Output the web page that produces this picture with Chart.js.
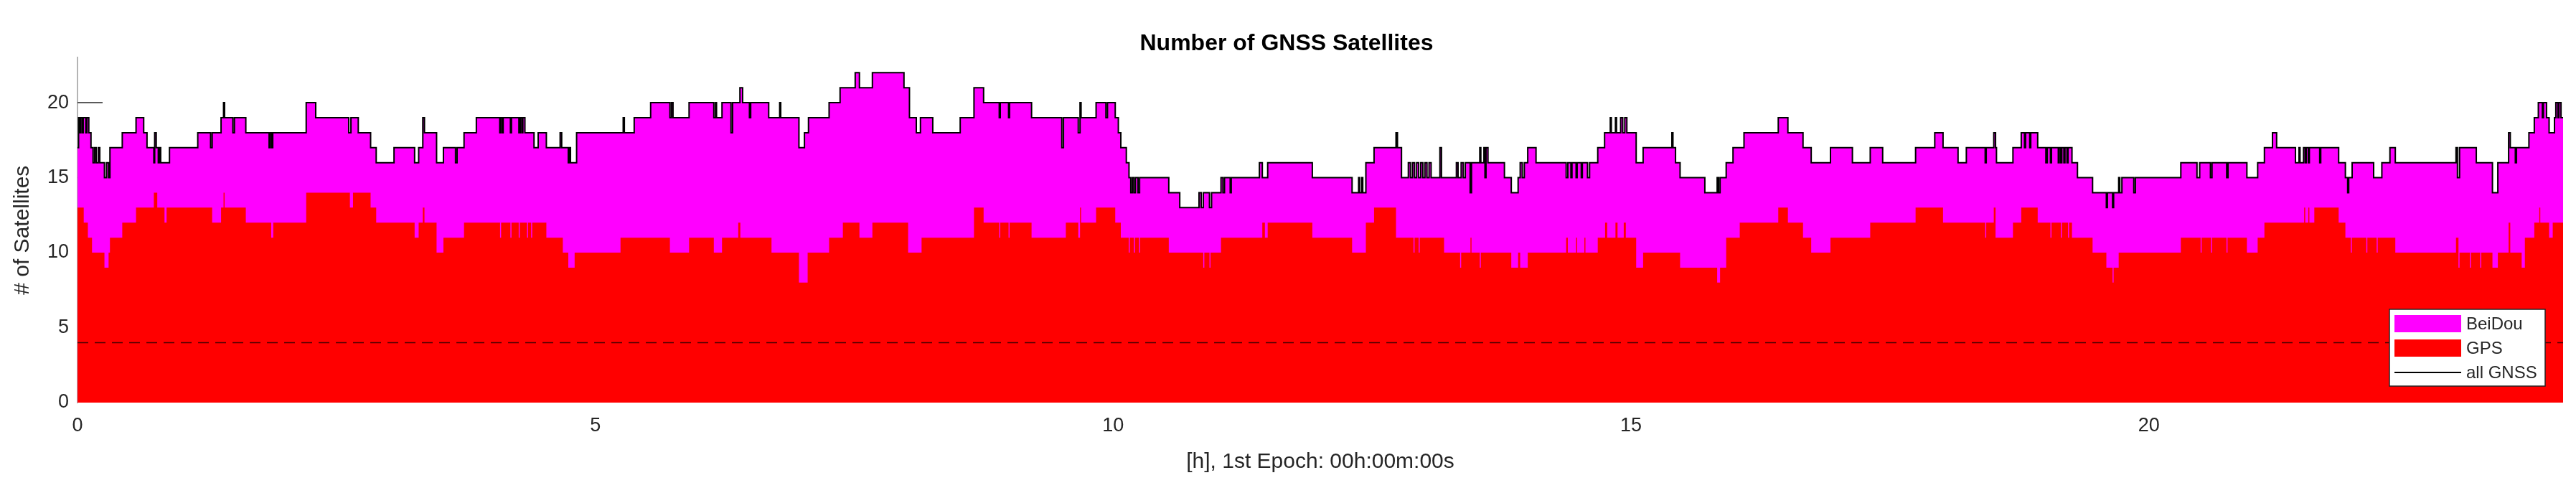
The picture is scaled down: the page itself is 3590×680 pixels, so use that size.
<!DOCTYPE html>
<html>
<head>
<meta charset="utf-8">
<script src="https://cdn.jsdelivr.net/npm/chart.js@4/dist/chart.umd.min.js"></script>
<style>
  html, body { margin: 0; padding: 0; background: #fff; }
  #satChart { display: block; }
</style>
</head>
<body>
<canvas id="satChart" width="3590" height="680"></canvas>
<script>
// [hour, number of satellites] -- value holds until the next entry
const allGnss = [
  [0,17],[0.01,19],[0.02,18],[0.03,19],[0.045,18],[0.055,19],[0.08,18],[0.09,19],[0.109,18],[0.13,17],
  [0.15,16],[0.165,17],[0.18,16],[0.2,17],[0.215,16],[0.26,15],[0.28,16],[0.3,15],[0.313,17],[0.432,18],
  [0.565,19],[0.639,18],[0.671,17],[0.737,16],[0.745,18],[0.76,17],[0.78,16],[0.79,17],[0.803,16],[0.888,17],
  [1.161,18],[1.285,17],[1.3,18],[1.386,19],[1.41,20],[1.42,19],[1.5,18],[1.515,19],[1.625,18],[1.85,17],
  [1.86,18],[1.875,17],[1.885,18],[2.208,20],[2.3,19],[2.619,18],[2.64,19],[2.711,18],[2.83,17],[2.884,16],
  [3.056,17],[3.255,16],[3.294,17],[3.334,19],[3.35,18],[3.467,16],[3.533,17],[3.65,16],[3.665,17],[3.732,18],
  [3.851,19],[4.077,18],[4.085,19],[4.1,18],[4.11,19],[4.18,18],[4.19,19],[4.262,18],[4.275,19],[4.29,18],
  [4.3,19],[4.32,18],[4.408,17],[4.448,18],[4.527,17],[4.66,18],[4.675,17],[4.739,16],[4.75,17],[4.76,16],
  [4.819,18],[5.269,19],[5.28,18],[5.375,19],[5.534,20],[5.72,19],[5.735,20],[5.75,19],[5.905,20],[6.144,19],
  [6.16,20],[6.17,19],[6.223,20],[6.31,18],[6.325,20],[6.396,21],[6.422,20],[6.488,19],[6.5,20],[6.674,19],
  [6.78,20],[6.79,19],[6.966,17],[7.019,18],[7.058,19],[7.257,20],[7.363,21],[7.509,22],[7.55,21],[7.675,22],
  [7.98,21],[8.033,19],[8.099,18],[8.139,19],[8.258,18],[8.523,19],[8.656,21],[8.749,20],[8.9,19],[8.91,20],
  [8.99,19],[9.0,20],[9.212,19],[9.504,17],[9.52,19],[9.663,18],[9.68,20],[9.69,19],[9.835,20],[9.93,19],
  [9.945,20],[10.02,19],[10.05,18],[10.074,17],[10.127,16],[10.153,15],[10.17,14],[10.185,15],[10.2,14],[10.215,15],
  [10.24,14],[10.255,15],[10.537,14],[10.643,13],[10.829,14],[10.85,13],[10.87,14],[10.93,13],[10.95,14],[11.041,15],
  [11.06,14],[11.075,15],[11.13,14],[11.14,15],[11.412,16],[11.44,15],[11.492,16],[11.923,15],[12.307,14],[12.37,15],
  [12.38,14],[12.4,15],[12.41,14],[12.44,16],[12.519,17],[12.731,18],[12.745,17],[12.784,15],[12.85,16],[12.87,15],
  [12.89,16],[12.91,15],[12.93,16],[12.95,15],[12.97,16],[12.99,15],[13.01,16],[13.03,15],[13.05,16],[13.07,15],
  [13.155,17],[13.17,15],[13.314,16],[13.33,15],[13.36,16],[13.38,15],[13.4,16],[13.447,14],[13.46,16],[13.54,17],
  [13.55,16],[13.58,17],[13.59,15],[13.6,17],[13.619,16],[13.778,15],[13.844,14],[13.91,15],[13.93,16],[13.95,15],
  [13.97,16],[14.003,17],[14.083,16],[14.374,15],[14.39,16],[14.42,15],[14.43,16],[14.47,15],[14.48,16],[14.52,15],
  [14.53,16],[14.58,15],[14.6,16],[14.679,17],[14.745,18],[14.8,19],[14.81,18],[14.85,19],[14.86,18],[14.9,19],
  [14.92,18],[14.94,19],[14.96,18],[15.05,16],[15.117,17],[15.395,18],[15.405,17],[15.43,16],[15.474,15],[15.713,14],
  [15.832,15],[15.845,14],[15.86,15],[15.919,16],[15.985,17],[16.091,18],[16.422,19],[16.515,18],[16.661,17],[16.74,16],
  [16.926,17],[17.138,16],[17.31,17],[17.43,16],[17.748,17],[17.933,18],[18.013,17],[18.158,16],[18.238,17],[18.42,16],
  [18.43,17],[18.503,18],[18.52,17],[18.529,16],[18.688,17],[18.768,18],[18.8,17],[18.81,18],[18.85,17],[18.86,18],
  [18.927,17],[19.006,16],[19.02,17],[19.05,16],[19.06,17],[19.126,16],[19.135,17],[19.15,16],[19.16,17],[19.18,16],
  [19.19,17],[19.21,16],[19.22,17],[19.258,16],[19.311,15],[19.457,14],[19.59,13],[19.6,14],[19.65,13],[19.66,14],
  [19.709,15],[19.72,14],[19.74,15],[19.855,14],[19.87,15],[20.309,16],[20.465,15],[20.491,16],[20.595,15],[20.61,16],
  [20.752,15],[20.765,16],[20.947,15],[21.051,16],[21.116,17],[21.194,18],[21.234,17],[21.416,16],[21.45,17],[21.46,16],
  [21.494,17],[21.51,16],[21.52,17],[21.54,16],[21.55,17],[21.65,16],[21.66,17],[21.833,16],[21.898,15],[21.92,14],
  [21.93,15],[21.963,16],[22.171,15],[22.25,16],[22.328,17],[22.38,16],[22.966,17],[22.98,15],[23.0,17],[23.162,16],
  [23.318,14],[23.37,16],[23.474,18],[23.49,17],[23.539,16],[23.55,17],[23.67,18],[23.722,19],[23.761,20],[23.8,19],
  [23.81,20],[23.84,19],[23.865,18],[23.917,19],[23.93,20],[23.95,19],[23.96,20],[23.98,19],[24,19]
];

const gps = [
  [0,13],[0.06,12],[0.1,11],[0.14,10],[0.26,9],[0.3,10],[0.313,11],[0.432,12],[0.565,13],[0.737,14],
  [0.77,13],[0.84,12],[0.86,13],[1.3,12],[1.386,13],[1.41,14],[1.42,13],[1.625,12],[1.87,11],[1.89,12],
  [2.208,14],[2.63,13],[2.66,14],[2.83,13],[2.884,12],[3.255,11],[3.294,12],[3.334,13],[3.35,12],[3.467,10],
  [3.533,11],[3.732,12],[4.08,11],[4.09,12],[4.18,11],[4.19,12],[4.26,11],[4.27,12],[4.34,11],[4.35,12],
  [4.38,11],[4.39,12],[4.527,11],[4.686,10],[4.739,9],[4.8,10],[5.243,11],[5.72,10],[5.905,11],[6.144,10],
  [6.223,11],[6.38,12],[6.4,11],[6.701,10],[6.966,8],[7.05,10],[7.257,11],[7.39,12],[7.55,11],[7.675,12],
  [8.02,10],[8.15,11],[8.656,13],[8.749,12],[8.9,11],[8.91,12],[8.99,11],[9.0,12],[9.212,11],[9.543,12],
  [9.663,11],[9.68,13],[9.69,12],[9.835,13],[10.02,12],[10.074,11],[10.15,10],[10.16,11],[10.2,10],[10.21,11],
  [10.25,10],[10.26,11],[10.537,10],[10.87,9],[10.88,10],[10.93,9],[10.94,10],[11.041,11],[11.44,12],[11.465,11],
  [11.492,12],[11.923,11],[12.307,10],[12.44,12],[12.519,13],[12.731,11],[12.9,10],[12.91,11],[12.95,10],[12.96,11],
  [13.195,10],[13.35,9],[13.36,10],[13.45,11],[13.46,10],[13.54,9],[13.55,10],[13.844,9],[13.91,10],[13.93,9],
  [14.003,10],[14.374,11],[14.39,10],[14.47,11],[14.48,10],[14.55,11],[14.56,10],[14.679,11],[14.75,12],[14.77,11],
  [14.85,12],[14.87,11],[14.93,12],[14.95,11],[15.05,9],[15.117,10],[15.474,9],[15.832,8],[15.86,9],[15.919,11],
  [16.05,12],[16.422,13],[16.515,12],[16.661,11],[16.74,10],[16.926,11],[17.31,12],[17.748,13],[18.013,12],[18.42,11],
  [18.43,12],[18.503,13],[18.52,11],[18.688,12],[18.768,13],[18.927,12],[19.05,11],[19.06,12],[19.15,11],[19.16,12],
  [19.22,11],[19.23,12],[19.258,11],[19.457,10],[19.59,9],[19.65,8],[19.66,9],[19.709,10],[20.309,11],[20.5,10],
  [20.51,11],[20.6,10],[20.61,11],[20.75,10],[20.76,11],[20.947,10],[21.051,11],[21.116,12],[21.5,13],[21.51,12],
  [21.54,13],[21.55,12],[21.598,13],[21.833,12],[21.898,11],[21.95,10],[21.96,11],[22.1,10],[22.11,11],[22.2,10],
  [22.21,11],[22.38,10],[22.966,11],[22.99,9],[23.0,10],[23.1,9],[23.11,10],[23.2,9],[23.21,10],[23.318,9],
  [23.37,10],[23.474,12],[23.49,10],[23.6,9],[23.631,11],[23.722,12],[23.77,13],[23.78,12],[23.865,11],[23.9,12],
  [24,12]
];

const minSatellites = 4;
const hourRange = [0, 24];
const satRange = [0, 23];
const xTicks = [0, 5, 10, 15, 20];
const yTicks = [0, 5, 10, 15, 20];
const legendOrder = ["BeiDou", "GPS", "all GNSS"];

const FONT = "'Liberation Sans', Arial, Helvetica, sans-serif";
const AXIS_COLOR = "#262626";

const toPoints = arr => arr.map(p => ({ x: p[0], y: p[1] }));

// MATLAB style ticks pointing into the axes, drawn under the data
// (the ones sitting on the axis lines themselves are skipped)
const innerTicks = {
  id: "innerTicks",
  beforeDatasetsDraw(chart) {
    const { ctx, chartArea, scales } = chart;
    ctx.save();
    ctx.strokeStyle = AXIS_COLOR;
    ctx.lineWidth = 1.5;
    ctx.beginPath();
    yTicks.filter(v => v > satRange[0]).forEach(v => {
      const y = scales.y.getPixelForValue(v);
      ctx.moveTo(chartArea.left, y);
      ctx.lineTo(chartArea.left + 35, y);
    });
    xTicks.filter(v => v > hourRange[0]).forEach(v => {
      const x = scales.x.getPixelForValue(v);
      ctx.moveTo(x, chartArea.bottom);
      ctx.lineTo(x, chartArea.bottom - 35);
    });
    ctx.stroke();
    ctx.restore();
  }
};

// legend box in the lower right corner of the axes
const boxLegend = {
  id: "boxLegend",
  afterDatasetsDraw(chart) {
    const { ctx, chartArea } = chart;
    const w = 217, h = 107;
    const left = chartArea.right - 25 - w;
    const top = chartArea.bottom - 23 - h;
    ctx.save();
    ctx.fillStyle = "#ffffff";
    ctx.fillRect(left, top, w, h);
    ctx.strokeStyle = AXIS_COLOR;
    ctx.lineWidth = 1.5;
    ctx.strokeRect(left, top, w, h);

    ctx.font = "24px " + FONT;
    ctx.textBaseline = "middle";
    legendOrder.forEach((label, i) => {
      const ds = chart.data.datasets.find(d => d.label === label);
      const cy = top + 20 + i * 34;
      if (ds.fill) {
        ctx.fillStyle = ds.backgroundColor;
        ctx.fillRect(left + 7, cy - 12, 93, 24);
      } else {
        ctx.strokeStyle = ds.borderColor;
        ctx.lineWidth = 2;
        ctx.beginPath();
        ctx.moveTo(left + 7, cy);
        ctx.lineTo(left + 100, cy);
        ctx.stroke();
      }
      ctx.fillStyle = AXIS_COLOR;
      ctx.fillText(label, left + 107, cy + 1);
    });
    ctx.restore();
  }
};

new Chart(document.getElementById("satChart"), {
  type: "line",
  data: {
    datasets: [
      {
        label: "all GNSS",
        data: toPoints(allGnss),
        stepped: true,
        borderColor: "#000000",
        borderWidth: 2,
        pointRadius: 0,
        fill: false,
        order: 0
      },
      {
        label: "min",
        data: [{ x: hourRange[0], y: minSatellites }, { x: hourRange[1], y: minSatellites }],
        borderColor: "rgba(40,0,0,0.85)",
        borderWidth: 1.5,
        borderDash: [15, 9],
        pointRadius: 0,
        fill: false,
        order: 1
      },
      {
        label: "GPS",
        data: toPoints(gps),
        stepped: true,
        borderWidth: 0,
        borderColor: "rgba(0,0,0,0)",
        backgroundColor: "#ff0000",
        pointRadius: 0,
        fill: "origin",
        order: 2
      },
      {
        // GPS + BeiDou stacked: the magenta band shows above the red GPS area
        label: "BeiDou",
        data: toPoints(allGnss),
        stepped: true,
        borderWidth: 0,
        borderColor: "rgba(0,0,0,0)",
        backgroundColor: "#ff00ff",
        pointRadius: 0,
        fill: "origin",
        order: 3
      }
    ]
  },
  options: {
    responsive: false,
    animation: false,
    events: [],
    layout: { padding: { left: 14, right: 18, top: 0, bottom: 18 } },
    plugins: {
      legend: { display: false },
      tooltip: { enabled: false },
      title: {
        display: true,
        text: "Number of GNSS Satellites",
        color: "#000000",
        font: { family: FONT, size: 32, weight: "bold" },
        padding: { top: 42, bottom: 0 }
      }
    },
    scales: {
      x: {
        type: "linear",
        min: hourRange[0],
        max: hourRange[1],
        afterBuildTicks: scale => { scale.ticks = xTicks.map(v => ({ value: v })); },
        grid: { display: false, drawTicks: false },
        border: { display: false },
        ticks: {
          padding: 19,
          maxRotation: 0,
          color: AXIS_COLOR,
          font: { family: FONT, size: 27, lineHeight: 1 }
        },
        title: {
          display: true,
          text: "[h], 1st Epoch: 00h:00m:00s",
          color: AXIS_COLOR,
          font: { family: FONT, size: 30 },
          padding: { top: 0, bottom: 0 }
        }
      },
      y: {
        type: "linear",
        min: satRange[0],
        max: satRange[1],
        afterBuildTicks: scale => { scale.ticks = yTicks.map(v => ({ value: v })); },
        grid: { display: false, drawTicks: false },
        border: { display: true, color: "#b4b4b4", width: 2 },
        ticks: {
          padding: 12,
          color: AXIS_COLOR,
          font: { family: FONT, size: 27 }
        },
        title: {
          display: true,
          text: "# of Satellites",
          color: AXIS_COLOR,
          font: { family: FONT, size: 30 },
          padding: { top: 0, bottom: 4 }
        }
      }
    }
  },
  plugins: [innerTicks, boxLegend]
});
</script>
</body>
</html>
